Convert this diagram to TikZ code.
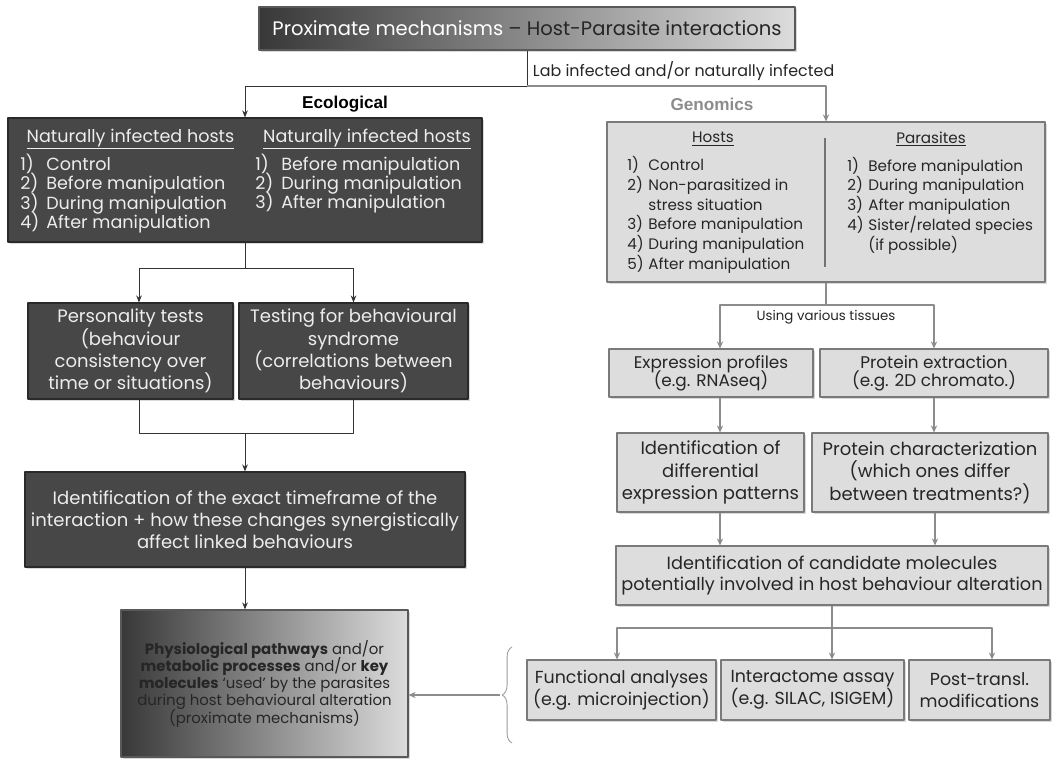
\documentclass[tikz,border=0pt]{standalone}
\usepackage{fontspec}
\setmainfont{Poppins}
\newfontfamily\headfont{Liberation Sans}
\usetikzlibrary{arrows.meta,positioning,shadows,calc,decorations.pathreplacing}

\definecolor{darkbox}{HTML}{474747}
\definecolor{darkedge}{HTML}{2A2A2A}
\definecolor{lightbox}{HTML}{DDDDDD}
\definecolor{lightedge}{HTML}{7A7A7A}
\definecolor{greyink}{HTML}{8C8C8C}
\definecolor{paleink}{HTML}{EDEDED}
\definecolor{darkink}{HTML}{262626}
\definecolor{shadeleft}{HTML}{383838}
\definecolor{shaderight}{HTML}{DCDCDC}

\newcommand{\li}[3][18.5pt]{\makebox[#1][l]{#2)}#3}
\newcommand{\tightlines}{\lineskiplimit -50pt\relax}

\begin{document}
\begin{tikzpicture}[x=0.025cm, y=-0.025cm, line join=round,
    wh/.style 2 args={minimum width=#1*0.025cm, minimum height=#2*0.025cm},
    fs/.style 2 args={font={\fontsize{#1}{#2}\selectfont\tightlines}},
    shadowed/.style={drop shadow={shadow xshift=1.3pt, shadow yshift=-1.3pt, opacity=0.3}},
    dbox/.style={draw=darkedge, fill=darkbox, text=paleink, line width=0.8pt, align=center, inner sep=0pt, shadowed},
    lbox/.style={draw=lightedge, fill=lightbox, text=darkink, line width=0.8pt, align=center, inner sep=0pt, shadowed},
    gbox/.style={draw=black!65, left color=shadeleft, right color=shaderight, text=darkink, line width=0.8pt, align=center, inner sep=0pt, shadowed},
    dline/.style={draw=black!80, line width=0.7pt},
    gline/.style={draw=greyink, line width=1.1pt},
    darrow/.style={dline, -{Stealth[length=5pt,width=4pt]}},
    garrow/.style={gline, -{Stealth[length=5pt,width=4.5pt]}}]
  \useasboundingbox (0,0) rectangle (1056,759);

  % top
  \node[gbox, wh={536}{43}, fs={13.9}{16}] (title) at (527,28.5)
    {{\color{white}Proximate mechanisms} – Host-Parasite interactions};
  \node[anchor=west, text=darkink, fs={11.3}{13}] (labtxt) at (528,71) {Lab infected and/or naturally infected};
  \node[font=\headfont\bfseries\fontsize{12.2}{14}\selectfont] (ecolab) at (345,104) {Ecological};
  \node[font=\headfont\bfseries\fontsize{12.2}{14}\selectfont, text=greyink] (genlab) at (712,104) {Genomics};

  % ecological side
  \node[dbox, wh={474}{124}] (eco1) at (245,180) {};
  \node[text=paleink, fs={12.5}{13.7}] (ehead1) at (130.5,139) {\underline{Naturally infected hosts}};
  \node[text=paleink, fs={12.5}{13.7}] (ehead2) at (367,139) {\underline{Naturally infected hosts}};
  \node[anchor=west, align=left, inner sep=0pt, text=paleink, fs={12.5}{13.7}] (elist1) at (20,193.5)
    {\li{1}{Control}\\ \li{2}{Before manipulation}\\ \li{3}{During manipulation}\\ \li{4}{After manipulation}};
  \node[anchor=west, align=left, inner sep=0pt, text=paleink, fs={12.5}{13.7}] (elist2) at (255,183.5)
    {\li{1}{Before manipulation}\\ \li{2}{During manipulation}\\ \li{3}{After manipulation}};

  \node[dbox, wh={205}{96}, fs={12.8}{15.8}] (pers) at (130.5,351)
    {Personality tests\\(behaviour\\consistency over\\time or situations)};
  \node[dbox, wh={229}{96}, fs={12.8}{15.8}] (synd) at (353.5,351)
    {Testing for behavioural\\syndrome\\(correlations between\\behaviours)};
  \node[dbox, wh={440}{95}, fs={12.8}{15.8}] (tf) at (245,519.5)
    {Identification of the exact timeframe of the\\interaction + how these changes synergistically\\affect linked behaviours};
  \node[gbox, wh={287}{147}, fs={10.6}{12.3}] (phys) at (264.5,683.5)
    {\textbf{Physiological pathways} and/or\\\textbf{metabolic processes} and/or \textbf{key}\\\textbf{molecules} ‘used’ by the parasites\\during host behavioural alteration\\(proximate mechanisms)};

  % genomics side
  \node[lbox, wh={438}{160}] (gen1) at (826,202) {};
  \node[text=darkink, fs={10.8}{14}] (ghead1) at (713,139) {\underline{Hosts}};
  \node[text=darkink, fs={10.8}{14}] (ghead2) at (931,139) {\underline{Parasites}};
  \node[anchor=west, align=left, inner sep=0pt, text=darkink, fs={10.8}{14}] (glist1) at (627,215)
    {\li[15pt]{1}{Control}\\ \li[15pt]{2}{Non-parasitized in}\\ \hspace*{15pt}stress situation\\
     \li[15pt]{3}{Before manipulation}\\ \li[15pt]{4}{During manipulation}\\ \li[15pt]{5}{After manipulation}};
  \node[anchor=west, align=left, inner sep=0pt, text=darkink, fs={10.8}{14}] (glist2) at (847,205.5)
    {\li[15pt]{1}{Before manipulation}\\ \li[15pt]{2}{During manipulation}\\ \li[15pt]{3}{After manipulation}\\
     \li[15pt]{4}{Sister/related species}\\ \hspace*{15pt}(if possible)};
  \draw[line width=1.5pt, draw=black!55] (825,138) -- (825,267);

  \node[text=darkink, fs={9.5}{11}] (tissues) at (826,317) {Using various tissues};
  \node[lbox, wh={204}{48}, fs={12}{12.8}] (expr) at (711,373) {Expression profiles\\(e.g. RNAseq)};
  \node[lbox, wh={228}{48}, fs={12}{12.8}] (prot) at (934,373) {Protein extraction\\(e.g. 2D chromato.)};
  \node[lbox, wh={187}{79}, fs={12.8}{16}] (ident) at (710.5,472.5) {Identification of\\differential\\expression patterns};
  \node[lbox, wh={236}{79}, fs={12.8}{16}] (pchar) at (930,472.5) {Protein characterization\\(which ones differ\\between treatments?)};
  \node[lbox, wh={432}{59}, fs={12.6}{15.6}] (cand) at (832,575.5)
    {Identification of candidate molecules\\potentially involved in host behaviour alteration};
  \node[lbox, wh={189}{60}, fs={12.4}{15.6}] (func) at (621.5,690) {Functional analyses\\(e.g. microinjection)};
  \node[lbox, wh={183}{60}, fs={12.4}{15.6}] (inter) at (812.5,690) {Interactome assay\\(e.g. SILAC, ISIGEM)};
  \node[lbox, wh={141}{60}, fs={12.4}{15.6}] (post) at (979.5,690) {Post-transl.\\modifications};

  % connectors, left
  \coordinate (split) at (527,86);
  \draw[dline] (title.south) -- (split);
  \draw[darrow] (split) -| (eco1.north);
  \draw[garrow] (split) -| (gen1.north);
  \coordinate (fork1) at (245,268);
  \draw[dline] (eco1.south) -- (fork1);
  \draw[darrow] (fork1) -| ($(pers.north)+(8.5,0)$);
  \draw[darrow] (fork1) -| (synd.north);
  \coordinate (join1) at (245,433);
  \draw[dline] ($(pers.south)+(8.5,0)$) |- (join1) -| (synd.south);
  \draw[darrow] (join1) -- (tf.north);
  \draw[darrow] (tf.south) -- (tf.south |- phys.north);

  % connectors, right
  \coordinate (fork2) at (826,305);
  \draw[gline] (gen1.south) -- (fork2);
  \draw[garrow] (fork2) -| ($(expr.north)+(9,0)$);
  \draw[garrow] (fork2) -| (prot.north);
  \draw[garrow] ($(expr.south)+(9,0)$) coordinate (e1) -- (e1 |- ident.north);
  \draw[garrow] (prot.south) -- (prot.south |- pchar.north);
  \draw[garrow] ($(ident.south)+(9.5,0)$) coordinate (i1) -- (i1 |- cand.north);
  \draw[garrow] ($(pchar.south)+(5,0)$) coordinate (p1) -- (p1 |- cand.north);
  \coordinate (fork3) at (832,628);
  \draw[gline] (cand.south) -- (fork3);
  \draw[garrow] (fork3) -| ($(func.north)+(-4.5,0)$);
  \draw[garrow] (fork3) -- (fork3 |- inter.north);
  \draw[garrow] (fork3) -| ($(post.north)+(12.5,0)$);

  % brace back to the pathways box
  \draw[draw=black!40, line width=0.6pt, decorate, decoration={brace, amplitude=7pt}] (512,743) -- (512,647);
  \coordinate (btip) at (500,695);
  \draw[garrow] (btip) -- (btip -| phys.east);
\end{tikzpicture}
\end{document}
